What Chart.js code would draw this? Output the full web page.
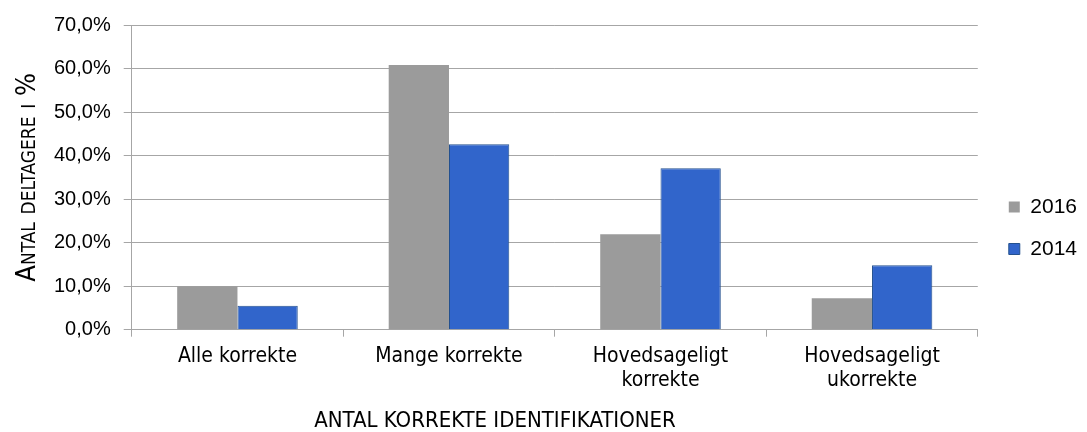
<!DOCTYPE html>
<html>
<head>
<meta charset="utf-8">
<script src="https://cdn.jsdelivr.net/npm/chart.js@4"></script>
<style>
  html, body { margin: 0; padding: 0; background: #fff; }
  #wrap { width: 1087px; height: 432px; }
</style>
</head>
<body>
<div id="wrap"><canvas id="identChart"></canvas></div>
<script>
let categories = [
    `Alle korrekte`,
    `Mange korrekte`,
    [`Hovedsageligt`, `korrekte`],
    [`Hovedsageligt`, `ukorrekte`]
]

let values2016 = [10.0, 60.8, 21.9, 7.2]
let values2014 = [5.5, 42.6, 37.1, 14.8]

let narrow = `'Liberation Sans Narrow', 'DejaVu Sans Condensed', sans-serif`
let regular = `'Liberation Sans', Arial, sans-serif`
let gridGray = `#a6a6a6`

// title sits a bit left of the plot centre in the original, pad it with trailing spaces
let xTitle = `ANTAL KORREKTE IDENTIFIKATIONER` + `\u00a0`.repeat(19)

function identChart() {
    const ctx = document.getElementById(`identChart`);

    new Chart(ctx, {
        type: `bar`,
        data: {
            labels: categories,
            datasets: [{
                label: `2016`,
                data: values2016,
                backgroundColor: `#9b9b9b`,
                borderColor: `#9b9b9b`,
                borderWidth: 0
            }, {
                label: `2014`,
                data: values2014,
                backgroundColor: `#3165cb`,
                borderColor: `#24518f`,
                borderWidth: 1
            }]
        },
        options: {
            responsive: true,
            maintainAspectRatio: false,
            animation: false,
            categoryPercentage: 0.57,
            barPercentage: 1,
            layout: {
                padding: { top: 24, right: 0, bottom: 0, left: 6 }
            },
            plugins: {
                tooltip: { enabled: false },
                legend: {
                    position: `right`,
                    labels: {
                        boxWidth: 11,
                        boxHeight: 11,
                        padding: 21,
                        color: `#000`,
                        font: { family: regular, size: 21 }
                    }
                }
            },
            scales: {
                x: {
                    grid: {
                        drawOnChartArea: false,
                        drawTicks: true,
                        tickLength: 7,
                        color: gridGray
                    },
                    border: { color: gridGray },
                    ticks: {
                        color: `#000`,
                        padding: 8,
                        maxRotation: 0,
                        font: { family: narrow, size: 21, lineHeight: 1.15 }
                    },
                    title: {
                        display: true,
                        text: xTitle,
                        color: `#000`,
                        padding: { top: 9, bottom: 0 },
                        font: { family: narrow, size: 22, lineHeight: 1 }
                    }
                },
                y: {
                    min: 0,
                    max: 70,
                    grid: {
                        color: gridGray,
                        tickLength: 8
                    },
                    border: { color: gridGray },
                    ticks: {
                        stepSize: 10,
                        color: `#000`,
                        padding: 13,
                        font: { family: regular, size: 20 },
                        callback: (v) => v.toFixed(1).replace(`.`, `,`) + `%`
                    },
                    title: {
                        display: true,
                        text: `Antal deltagere i %`,
                        color: `#000`,
                        padding: { top: 8, bottom: 0 },
                        font: { family: narrow, size: 27, lineHeight: 1, weight: `small-caps normal` }
                    }
                },
                // empty axis, only keeps a gap between the plot and the legend
                gap: {
                    type: `linear`,
                    position: `right`,
                    display: true,
                    grid: { display: false },
                    border: { display: false },
                    ticks: { display: false },
                    afterFit: (scale) => { scale.width = 10 }
                }
            }
        }
    });
}

identChart()
</script>
</body>
</html>
